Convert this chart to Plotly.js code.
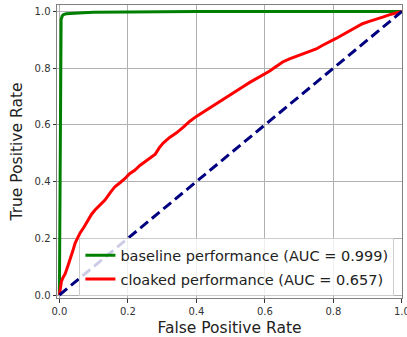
<!DOCTYPE html>
<html>
<head>
<meta charset="utf-8">
<script src="https://cdn.plot.ly/plotly-3.0.1.min.js"></script>
<style>html,body{margin:0;padding:0;background:#fff;}#chart{width:407px;height:337px;}</style>
</head>
<body>
<div id="chart"></div>
<script>
const baselineFPR = [0, 0.001, 0.002, 0.003, 0.005, 0.008, 0.012, 0.02, 0.04, 0.07, 0.1, 0.15, 0.2, 0.3, 0.4, 0.6, 0.8, 1.0];
const baselineTPR = [0, 0.3, 0.7, 0.92, 0.972, 0.984, 0.989, 0.992, 0.994, 0.996, 0.997, 0.998, 0.999, 0.999, 1.0, 1.0, 1.0, 1.0];
const cloakedFPR = [0, 0.003, 0.006, 0.01, 0.017, 0.024, 0.031, 0.039, 0.046, 0.053, 0.06, 0.072, 0.084, 0.094, 0.104, 0.118, 0.133, 0.148, 0.162, 0.176, 0.191, 0.205, 0.22, 0.235, 0.25, 0.264, 0.28, 0.292, 0.303, 0.322, 0.342, 0.362, 0.381, 0.4, 0.419, 0.438, 0.458, 0.478, 0.497, 0.516, 0.536, 0.556, 0.576, 0.594, 0.613, 0.633, 0.652, 0.672, 0.691, 0.71, 0.73, 0.75, 0.769, 0.79, 0.808, 0.826, 0.846, 0.865, 0.885, 0.905, 0.924, 0.944, 0.963, 0.98, 0.992, 1.0];
const cloakedTPR = [0, 0.03, 0.048, 0.06, 0.075, 0.1, 0.123, 0.155, 0.183, 0.203, 0.218, 0.24, 0.265, 0.285, 0.3, 0.316, 0.335, 0.36, 0.382, 0.395, 0.41, 0.428, 0.44, 0.457, 0.47, 0.485, 0.497, 0.52, 0.536, 0.556, 0.572, 0.592, 0.613, 0.63, 0.645, 0.66, 0.675, 0.69, 0.704, 0.72, 0.735, 0.75, 0.763, 0.776, 0.789, 0.806, 0.822, 0.833, 0.842, 0.85, 0.858, 0.868, 0.881, 0.893, 0.905, 0.917, 0.93, 0.944, 0.957, 0.965, 0.971, 0.98, 0.988, 0.994, 0.998, 1.0];
const chanceX = [0, 1];
const chanceY = [0, 1];
const seriesNames = ['baseline performance (AUC = 0.999)', 'cloaked performance (AUC = 0.657)'];
const tickVals = [0, 0.2, 0.4, 0.6, 0.8, 1.0];
const tickText = ['0.0', '0.2', '0.4', '0.6', '0.8', '1.0'];

const traces = [
  {x: baselineFPR, y: baselineTPR, mode: 'lines', name: seriesNames[0], legendgroup: 'a', line: {color: '#008000', width: 3}},
  {x: cloakedFPR, y: cloakedTPR, mode: 'lines', name: seriesNames[1], legendgroup: 'b', line: {color: '#ff0000', width: 3}},
  {x: chanceX, y: chanceY, mode: 'lines', showlegend: false, line: {color: '#000080', width: 3, dash: '10px,5px'}}
];

const axisCommon = {
  showgrid: true, gridcolor: '#b0b0b0', gridwidth: 1,
  zeroline: false, showline: true, linecolor: '#808080', linewidth: 1, mirror: true,
  ticks: 'outside', ticklen: 3.5, tickcolor: '#333', tickwidth: 1,
  tickvals: tickVals, ticktext: tickText, ticklabeloverflow: 'allow',
  tickfont: {family: 'DejaVu Sans', size: 10, color: '#333'}
};

const layout = {
  width: 407, height: 337,
  margin: {l: 57, r: 4.5, t: 5, b: 39},
  paper_bgcolor: '#fff', plot_bgcolor: '#fff',
  font: {family: 'DejaVu Sans', color: '#222'},
  xaxis: Object.assign({}, axisCommon, {range: [-0.007, 1.0005],
    title: {text: 'False Positive Rate', font: {family: 'DejaVu Sans', size: 15.5, color: '#222'}, standoff: 6}}),
  yaxis: Object.assign({}, axisCommon, {range: [-0.0106, 1.023],
    title: {text: 'True Positive Rate', font: {family: 'DejaVu Sans', size: 15.5, color: '#222'}, standoff: 8}}),
  legend: {x: 0.978, y: 0.006, xanchor: 'right', yanchor: 'bottom',
    bgcolor: 'rgba(255,255,255,0.8)', bordercolor: '#cccccc', borderwidth: 1,
    font: {family: 'DejaVu Sans', size: 14.5, color: '#222'}, itemwidth: 30,
    traceorder: 'grouped', tracegroupgap: 2},
  showlegend: true
};

Plotly.newPlot('chart', traces, layout, {displayModeBar: false, staticPlot: true});
</script>
</body>
</html>
